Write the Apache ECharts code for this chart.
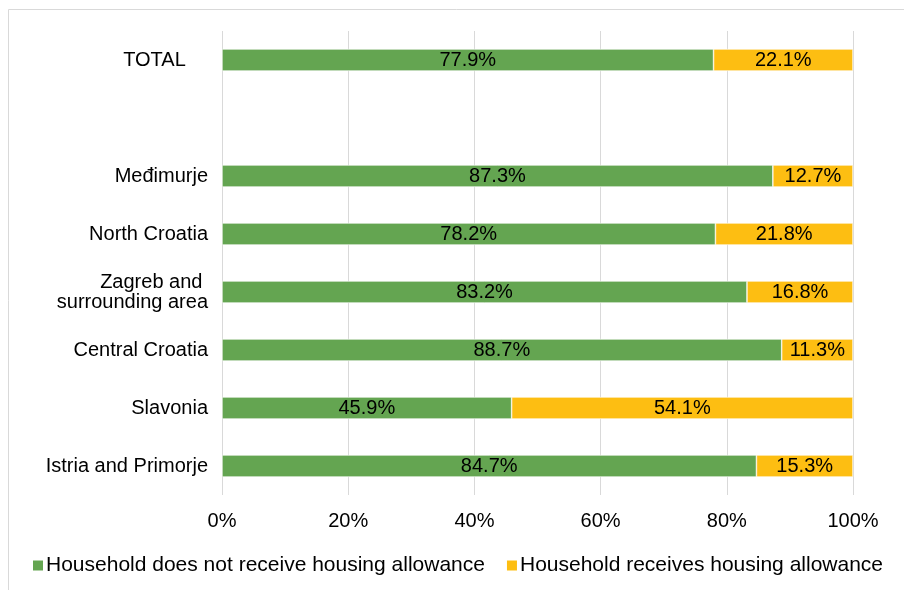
<!DOCTYPE html>
<html>
<head>
<meta charset="utf-8">
<script src="https://cdn.jsdelivr.net/npm/echarts@6/dist/echarts.min.js"></script>
<style>
  html, body { margin: 0; padding: 0; background: #fff; }
  #chart { width: 904px; height: 590px; }
</style>
</head>
<body>
<div id="chart"></div>
<script>
// bottom to top, blank slot keeps the gap under TOTAL
const regions = ['Istria and Primorje', 'Slavonia', 'Central Croatia', 'Zagreb and \nsurrounding area', 'North Croatia', 'Međimurje', '', 'TOTAL    '];
const notReceiving = [84.7, 45.9, 88.7, 83.2, 78.2, 87.3, null, 77.9];
const receiving = [15.3, 54.1, 11.3, 16.8, 21.8, 12.7, null, 22.1];
const valueTicks = [0, 20, 40, 60, 80, 100];

const chart = echarts.init(document.getElementById('chart'));
const font = 'Liberation Sans, Arial, sans-serif';
const fs = 20;

function barSeries(name, data, color) {
  return {
    name: name,
    type: 'bar',
    stack: 'all',
    barWidth: 22,
    data: data,
    itemStyle: { color: color, borderColor: '#fff', borderWidth: 0.6 },
    label: {
      show: true,
      position: 'inside',
      color: '#000',
      fontFamily: font,
      fontSize: fs,
      formatter: p => p.value.toFixed(1) + '%'
    }
  };
}

chart.setOption({
  animation: false,
  textStyle: { fontFamily: font },
  graphic: [{
    type: 'rect',
    shape: { x: 8.5, y: 9.5, width: 920, height: 600 },
    style: { fill: 'none', stroke: '#d9d9d9', lineWidth: 1 },
    silent: true
  }],
  grid: { left: 222, right: 51, top: 31, bottom: 95 },
  legend: {
    bottom: 9,
    left: 26,
    itemGap: 20,
    itemWidth: 12,
    itemHeight: 12,
    icon: 'rect',
    textStyle: { fontSize: 21, color: '#000', fontFamily: font, padding: [0, 0, 0, -3] },
    data: ['Household does not receive housing allowance', 'Household receives housing allowance']
  },
  xAxis: {
    type: 'value',
    min: valueTicks[0],
    max: valueTicks[valueTicks.length - 1],
    interval: 20,
    axisLine: { show: false },
    axisTick: { show: false },
    splitLine: { lineStyle: { color: '#d9d9d9', width: 1 } },
    axisLabel: { color: '#000', fontSize: fs, margin: 16, formatter: '{value}%' }
  },
  yAxis: {
    type: 'category',
    data: regions,
    axisLine: { show: false },
    axisTick: { show: false },
    axisLabel: { color: '#000', fontSize: fs, margin: 14, lineHeight: 20, align: 'right' }
  },
  series: [
    barSeries('Household does not receive housing allowance', notReceiving, '#64a551'),
    barSeries('Household receives housing allowance', receiving, '#fdbe12')
  ]
});
</script>
</body>
</html>
